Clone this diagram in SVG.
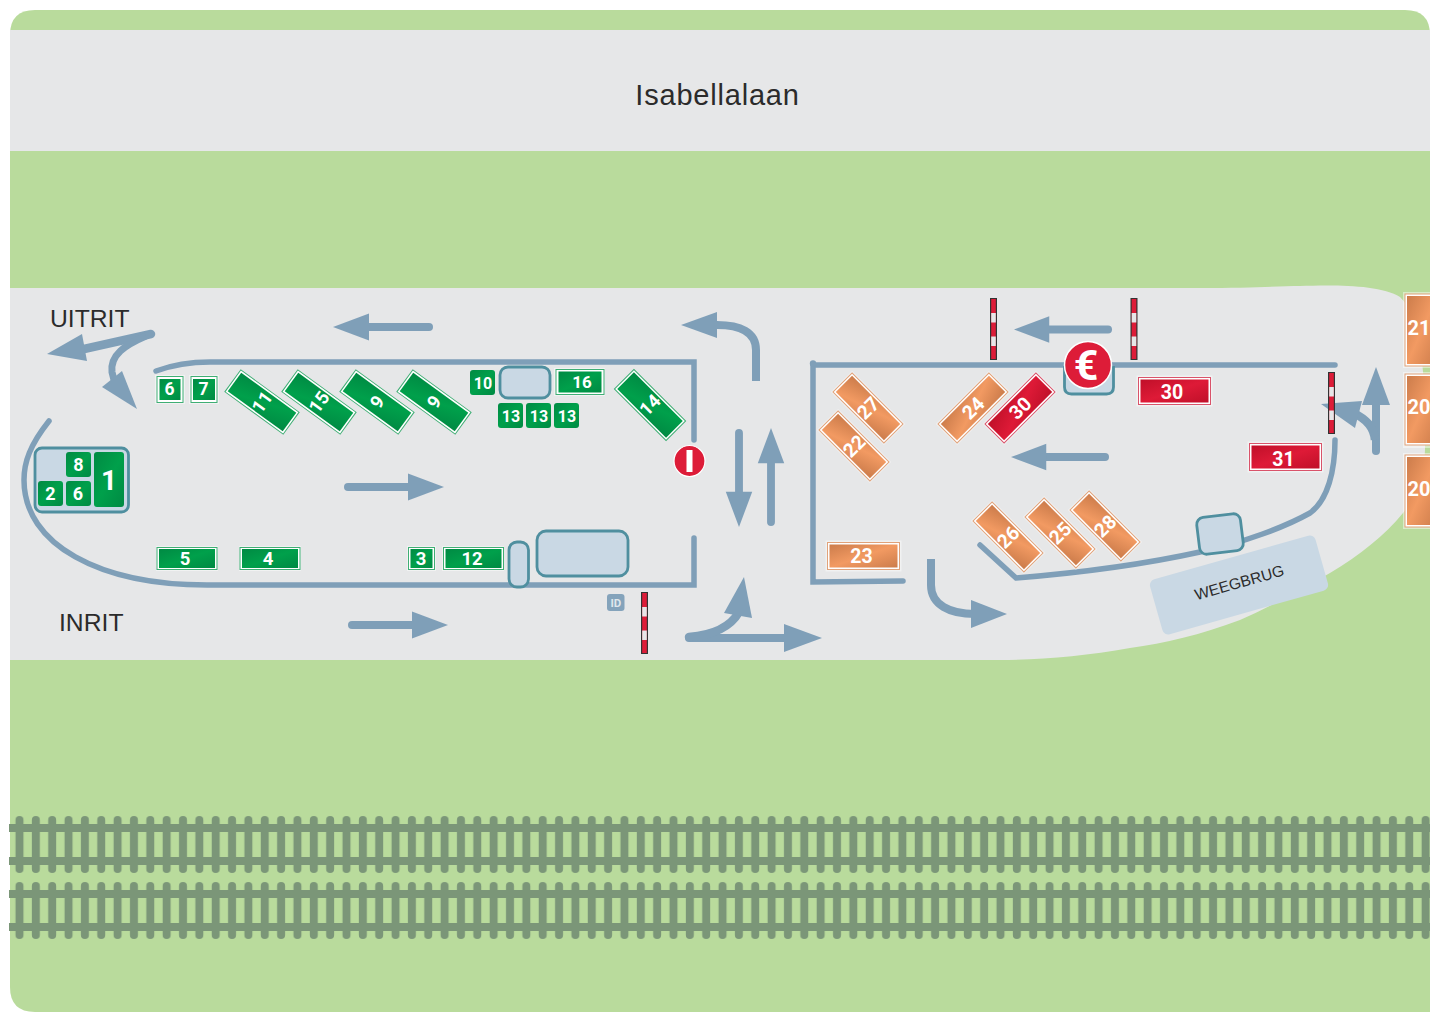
<svg xmlns="http://www.w3.org/2000/svg" xmlns:xlink="http://www.w3.org/1999/xlink" width="1430" height="1012" viewBox="0 0 1430 1012">
<style>
.wall{fill:none;stroke:#7f9fb8;stroke-width:5.5;stroke-linecap:round}
.sh{fill:none;stroke:#7f9fb8;stroke-width:8;stroke-linecap:round}
.hd{fill:#7f9fb8}
.bx{fill:#c9d8e4;stroke:#4f8f9f;stroke-width:2.8}
.halo{fill:#fff;opacity:.45}
.t{font-family:Roboto,"Liberation Sans",sans-serif;font-weight:700;fill:#fff;text-anchor:middle}
.lab{font-family:"Liberation Sans",Arial,sans-serif;fill:#2b2b2b}
.g{fill:url(#gg)}.o{fill:url(#og)}.r{fill:url(#rg)}
.gl{fill:#fff;stroke:#3fae74;stroke-width:1}
.ol{fill:#fff;stroke:#e0a27a;stroke-width:1}
.rl{fill:#fff;stroke:#d9536a;stroke-width:1}
</style>
<defs>
<linearGradient id="gg" x1="0" y1="0" x2="1" y2="1"><stop offset="0" stop-color="#008a43"/><stop offset=".5" stop-color="#00a04b"/><stop offset="1" stop-color="#008a43"/></linearGradient>
<linearGradient id="og" x1="0" y1="0" x2="1" y2="1"><stop offset="0" stop-color="#cc7c4b"/><stop offset=".5" stop-color="#f29a62"/><stop offset="1" stop-color="#cc7c4b"/></linearGradient>
<linearGradient id="rg" x1="0" y1="0" x2="1" y2="1"><stop offset="0" stop-color="#c01029"/><stop offset=".5" stop-color="#de1a37"/><stop offset="1" stop-color="#c01029"/></linearGradient>
<g id="arrow"><line class="sh" x1="4" y1="0" x2="66" y2="0"/><polygon class="hd" points="64,-13.500 100,0 64,13.500"/></g>
<g id="barrier"><rect x="0" y="0" width="7" height="62" fill="#333"/><rect x="1.200" y="1" width="4.600" height="60" fill="#dd1c38"/><rect x="1.200" y="15" width="4.600" height="9.500" fill="#e6e7e8"/><rect x="1.200" y="38.500" width="4.600" height="9.500" fill="#e6e7e8"/></g>
<pattern id="sleepers" x="19.500" y="0" width="16.350" height="1012" patternUnits="userSpaceOnUse"><rect x="-4" y="816" width="8" height="57" rx="4" fill="#7b9678"/><rect x="12.350" y="816" width="8" height="57" rx="4" fill="#7b9678"/><rect x="-4" y="882" width="8" height="57" rx="4" fill="#7b9678"/><rect x="12.350" y="882" width="8" height="57" rx="4" fill="#7b9678"/></pattern>
</defs>
<rect width="1430" height="1012" fill="#fff"/>
<path d="M35,10H1405Q1430,10 1430,35V1012H35Q10,1012 10,987V35Q10,10 35,10Z" fill="#b9db9c"/>
<rect x="10" y="30" width="1420" height="121" fill="#e6e7e8"/>
<path d="M10,288H1200C1250,288 1280,286 1300,286C1330,285 1380,284 1400,297C1425,320 1426,400 1425,450C1424,480 1415,500 1403,513C1385,535 1360,555 1330,573C1300,590 1270,607 1240,620C1200,635 1165,643 1130,648C1085,656 1040,660 1000,660H10Z" fill="#e6e7e8"/>
<g id="rails">
<rect x="10" y="816" width="1420" height="123" fill="url(#sleepers)"/>
<g fill="#7b9678"><rect x="9" y="824" width="1421" height="8"/><rect x="9" y="857" width="1421" height="8"/><rect x="9" y="890" width="1421" height="8"/><rect x="9" y="923" width="1421" height="8"/></g>
</g>
<g id="road-name"><text class="lab" x="717.500" y="104.500" font-size="29" letter-spacing="0.800" text-anchor="middle">Isabellalaan</text></g>
<g id="weegbrug" transform="translate(1239,585) rotate(-15.800)"><rect x="-86" y="-28.500" width="172" height="57" rx="6" fill="#c9d8e4"/><text class="lab" x="1" y="3" font-size="15.500" text-anchor="middle">WEEGBRUG</text></g>
<g id="labels"><text class="lab" x="50" y="327" font-size="24.700">UITRIT</text><text class="lab" x="59" y="631" font-size="24.700">INRIT</text></g>
<g id="connectors">
<path class="wall" d="M156,371C175,364 192,362 210,362H694V440"/>
<path class="wall" d="M49,421C30,445 24,462 24,480C24,545 100,585 207,585H694V538"/>
<path class="wall" d="M903,581L813,582V365H1335"/>
<circle class="hd" cx="813" cy="363.500" r="3.200"/>
<path class="wall" d="M980,545L1016,578C1090,572 1150,563 1200,552C1245,542 1285,527 1310,513C1328,500 1335,470 1335,440"/>
<use xlink:href="#arrow" href="#arrow" transform="translate(433,327) rotate(180)"/>
<use xlink:href="#arrow" href="#arrow" transform="translate(344,487)"/>
<use xlink:href="#arrow" href="#arrow" transform="translate(348,625)"/>
<use xlink:href="#arrow" href="#arrow" transform="translate(739,429) rotate(90) scale(.98)"/>
<use xlink:href="#arrow" href="#arrow" transform="translate(771,526) rotate(-90) scale(.98)"/>
<use xlink:href="#arrow" href="#arrow" transform="translate(1112,329.500) rotate(180) scale(.98)"/>
<use xlink:href="#arrow" href="#arrow" transform="translate(1109,457) rotate(180) scale(.98)"/>
<path class="sh" style="stroke-linecap:butt" d="M756,381V350C756,332 740,325 717,325"/><polygon class="hd" points="681,325 717,312 717,338"/>
<path class="sh" style="stroke-width:8.500" d="M151,334L84,349"/><polygon class="hd" points="47,354 82,334 87,361"/>
<path class="sh" style="stroke-width:7;stroke-linecap:butt" d="M146,336C125,345 110,355 112,372L114,380"/><polygon class="hd" points="137,409 102,387 122,371"/>
<path class="sh" d="M689,638H786"/><polygon class="hd" points="822,638 784,624 784,652"/>
<path class="sh" style="stroke-width:8.500" d="M689,637C712,635 730,628 739,612"/><polygon class="hd" points="744,577 724,613 752,618"/>
<path class="sh" style="stroke-linecap:butt" d="M931,559V585C931,605 950,614 975,614"/><polygon class="hd" points="1007,614 971,600 971,628"/>
<path class="sh" d="M1376,451V402"/><polygon class="hd" points="1376,367 1362,405 1390,405"/>
<path class="sh" style="stroke-linecap:butt;stroke-width:8.500" d="M1375,440C1374,428 1368,420 1352,412"/><polygon class="hd" points="1321,404 1362,401 1355,428"/>
</g>
<g id="barriers">
<use xlink:href="#barrier" href="#barrier" x="641" y="592"/>
<use xlink:href="#barrier" href="#barrier" x="990" y="298"/>
<use xlink:href="#barrier" href="#barrier" x="1130.500" y="298"/>
<use xlink:href="#barrier" href="#barrier" x="1328" y="372"/>
</g>
<g id="box-10"><rect class="bx" x="500" y="367" width="50" height="31" rx="8"/></g>
<g id="box-big"><rect class="bx" x="537" y="531" width="91" height="45" rx="9"/></g>
<g id="box-small"><rect class="bx" x="509" y="542" width="19.500" height="45" rx="8"/></g>
<g id="box-weeg"><rect class="bx" x="-22" y="-18.500" width="44" height="37" rx="7" transform="translate(1220,534) rotate(-7)"/></g>
<g id="box-cash"><path class="bx" d="M1064.500,366V387Q1064.500,394 1071.500,394H1106.500Q1113.500,394 1113.500,387V366"/></g>
<g id="box-1"><rect class="bx" x="35" y="448" width="93.500" height="64" rx="7"/>
<g><rect class="g" x="66" y="452" width="25" height="25" rx="3"/><text class="t" x="78.500" y="471" font-size="18">8</text></g>
<g><rect class="g" x="38" y="481" width="25" height="25" rx="3"/><text class="t" x="50.500" y="500" font-size="18">2</text></g>
<g><rect class="g" x="66" y="481" width="25" height="25" rx="3"/><text class="t" x="78" y="500" font-size="18">6</text></g>
<g><rect class="g" x="94" y="452" width="30" height="55" rx="3"/><text class="t" x="109" y="490" font-size="28">1</text></g>
</g>
<g id="sign-6a"><rect class="halo" x="155" y="375" width="30" height="29"/><rect class="gl" x="157" y="376.500" width="26" height="26"/><rect class="g" x="159.500" y="379" width="21" height="21"/><text class="t" x="169.500" y="395" font-size="17.500">6</text></g>
<g id="sign-7"><rect class="halo" x="189" y="375" width="30" height="29"/><rect class="gl" x="191" y="376.500" width="26" height="26"/><rect class="g" x="193" y="379" width="22" height="21"/><text class="t" x="203.500" y="395" font-size="17.500">7</text></g>
<g id="sign-5"><rect class="halo" x="156" y="546" width="62" height="25"/><rect class="gl" x="157" y="547.500" width="60" height="22"/><rect class="g" x="159" y="549" width="56" height="19"/><text class="t" x="185" y="565" font-size="18.500">5</text></g>
<g id="sign-4"><rect class="halo" x="239" y="546" width="62" height="25"/><rect class="gl" x="240" y="547.500" width="60" height="22"/><rect class="g" x="242" y="549" width="56" height="19"/><text class="t" x="268" y="565" font-size="18.500">4</text></g>
<g id="sign-3"><rect class="halo" x="407" y="546" width="29" height="25"/><rect class="gl" x="408.500" y="547.500" width="26" height="22"/><rect class="g" x="410.500" y="549" width="22" height="19"/><text class="t" x="421" y="565" font-size="18.500">3</text></g>
<g id="sign-12"><rect class="halo" x="442" y="546" width="62" height="25"/><rect class="gl" x="443.500" y="547.500" width="60" height="22"/><rect class="g" x="445.500" y="549" width="56" height="19"/><text class="t" x="472" y="565" font-size="18.500">12</text></g>
<g id="sign-16"><rect class="halo" x="554" y="368" width="51" height="28"/><rect class="gl" x="556" y="369.500" width="48" height="25"/><rect class="g" x="558.500" y="371.500" width="43" height="21"/><text class="t" x="582" y="388" font-size="17">16</text></g>
<g id="sign-10"><rect class="g" x="470" y="370" width="25" height="25" rx="3"/><text class="t" x="483" y="389" font-size="16">10</text></g>
<g id="sign-13a"><rect class="g" x="498" y="403" width="25" height="25" rx="3"/><text class="t" x="511" y="422" font-size="16">13</text></g>
<g id="sign-13b"><rect class="g" x="526" y="403" width="25" height="25" rx="3"/><text class="t" x="539" y="422" font-size="16">13</text></g>
<g id="sign-13c"><rect class="g" x="554" y="403" width="25" height="25" rx="3"/><text class="t" x="567" y="422" font-size="16">13</text></g>
<g id="sign-11" transform="translate(262,402) rotate(36)"><rect class="gl" x="-36" y="-13.500" width="72" height="27"/><rect class="g" x="-34" y="-11.500" width="68" height="23"/><text class="t" transform="rotate(-90)" y="6.500" font-size="18.500">11</text></g>
<g id="sign-15" transform="translate(319,402) rotate(36)"><rect class="gl" x="-36" y="-13.500" width="72" height="27"/><rect class="g" x="-34" y="-11.500" width="68" height="23"/><text class="t" transform="rotate(-90)" y="6.500" font-size="18.500">15</text></g>
<g id="sign-9a" transform="translate(377,402) rotate(36)"><rect class="gl" x="-36" y="-13.500" width="72" height="27"/><rect class="g" x="-34" y="-11.500" width="68" height="23"/><text class="t" transform="rotate(-90)" y="6.500" font-size="18.500">9</text></g>
<g id="sign-9b" transform="translate(434,402) rotate(36)"><rect class="gl" x="-36" y="-13.500" width="72" height="27"/><rect class="g" x="-34" y="-11.500" width="68" height="23"/><text class="t" transform="rotate(-90)" y="6.500" font-size="18.500">9</text></g>
<g id="sign-14" transform="translate(650,405) rotate(45)"><rect class="gl" x="-36.500" y="-13.800" width="73" height="27.600"/><rect class="g" x="-34.500" y="-11.800" width="69" height="23.600"/><text class="t" transform="rotate(-90)" y="6.500" font-size="18.500">14</text></g>
<g id="sign-27" transform="translate(868,408) rotate(45)"><rect class="halo" x="-37.500" y="-15" width="75" height="30"/><rect class="ol" x="-36" y="-13.500" width="72" height="27"/><rect class="o" x="-34" y="-11.500" width="68" height="23"/><text class="t" transform="rotate(-90)" y="7" font-size="19.500">27</text></g>
<g id="sign-22" transform="translate(854,446) rotate(45)"><rect class="halo" x="-37.500" y="-15" width="75" height="30"/><rect class="ol" x="-36" y="-13.500" width="72" height="27"/><rect class="o" x="-34" y="-11.500" width="68" height="23"/><text class="t" transform="rotate(-90)" y="7" font-size="19.500">22</text></g>
<g id="sign-24" transform="translate(973,408) rotate(-45)"><rect class="halo" x="-37.500" y="-15" width="75" height="30"/><rect class="ol" x="-36" y="-13.500" width="72" height="27"/><rect class="o" x="-34" y="-11.500" width="68" height="23"/><text class="t" y="7" font-size="19.500">24</text></g>
<g id="sign-30a" transform="translate(1020,408) rotate(-45)"><rect class="halo" x="-37.500" y="-15" width="75" height="30"/><rect class="rl" x="-36" y="-13.500" width="72" height="27"/><rect class="r" x="-34" y="-11.500" width="68" height="23"/><text class="t" y="7" font-size="19.500">30</text></g>
<g id="sign-26" transform="translate(1008,537) rotate(45)"><rect class="halo" x="-37.500" y="-15" width="75" height="30"/><rect class="ol" x="-36" y="-13.500" width="72" height="27"/><rect class="o" x="-34" y="-11.500" width="68" height="23"/><text class="t" transform="rotate(-90)" y="7" font-size="19.500">26</text></g>
<g id="sign-25" transform="translate(1060,533) rotate(45)"><rect class="halo" x="-37.500" y="-15" width="75" height="30"/><rect class="ol" x="-36" y="-13.500" width="72" height="27"/><rect class="o" x="-34" y="-11.500" width="68" height="23"/><text class="t" transform="rotate(-90)" y="7" font-size="19.500">25</text></g>
<g id="sign-28" transform="translate(1105,526) rotate(45)"><rect class="halo" x="-37.500" y="-15" width="75" height="30"/><rect class="ol" x="-36" y="-13.500" width="72" height="27"/><rect class="o" x="-34" y="-11.500" width="68" height="23"/><text class="t" transform="rotate(-90)" y="7" font-size="19.500">28</text></g>
<g id="sign-23"><rect class="halo" x="825.500" y="540.500" width="76" height="31"/><rect class="ol" x="827.500" y="542.500" width="72" height="27"/><rect class="o" x="829.500" y="544.500" width="68" height="23"/><text class="t" x="861.500" y="562.500" font-size="19.500">23</text></g>
<g id="sign-30b"><rect class="halo" x="1136.500" y="375.500" width="76" height="31"/><rect class="rl" x="1138.500" y="377.500" width="72" height="27"/><rect class="r" x="1140.500" y="379.500" width="68" height="23"/><text class="t" x="1172" y="399" font-size="19.500">30</text></g>
<g id="sign-31"><rect class="halo" x="1247.500" y="441.500" width="76" height="31"/><rect class="rl" x="1249.500" y="443.500" width="72" height="27"/><rect class="r" x="1251.500" y="445.500" width="68" height="23"/><text class="t" x="1283.500" y="466" font-size="19.500">31</text></g>
<g id="sign-21"><rect class="halo" x="1403" y="292" width="30" height="76"/><rect class="ol" x="1405" y="294" width="30" height="72"/><rect class="o" x="1407" y="296" width="30" height="68"/><text class="t" x="1419" y="335" font-size="20">21</text></g>
<g id="sign-20a"><rect class="halo" x="1403" y="372" width="30" height="76"/><rect class="ol" x="1405" y="374" width="30" height="71"/><rect class="o" x="1407" y="376" width="30" height="67"/><text class="t" x="1419" y="414" font-size="20">20</text></g>
<g id="sign-20b"><rect class="halo" x="1403" y="453" width="30" height="76"/><rect class="ol" x="1405" y="455" width="30" height="72"/><rect class="o" x="1407" y="457" width="30" height="68"/><text class="t" x="1419" y="496" font-size="20">20</text></g>
<g id="no-entry"><circle cx="689.500" cy="461" r="15.500" fill="#dd1c38" stroke="#fff" stroke-width="1.200"/><rect x="686.500" y="450" width="6" height="22" fill="#fff"/></g>
<g id="pay"><circle cx="1088" cy="365" r="23.500" fill="#dd1c38" stroke="#fff" stroke-width="1.500"/><text class="t" x="1086" y="380" font-size="43">€</text></g>
<g id="id-badge"><rect x="607" y="594" width="17.500" height="17" rx="3" fill="#84a3bb"/><text class="t" x="615.800" y="607" font-size="11.500" style="fill:#dfe6ec">ID</text></g>
</svg>
